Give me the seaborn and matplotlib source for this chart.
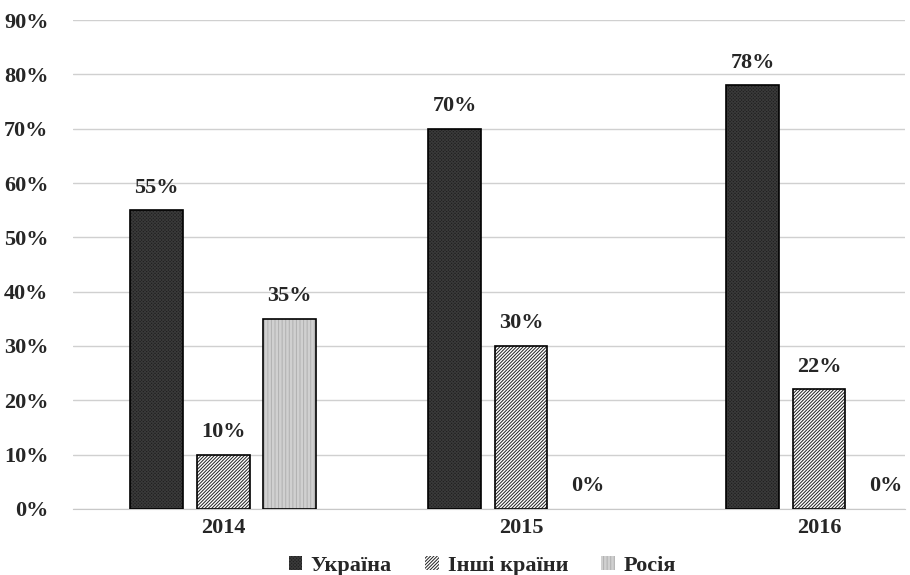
import numpy as np
import pandas as pd
import seaborn as sns
import matplotlib.pyplot as plt
from matplotlib.patches import Patch, Rectangle

# data
years = ['2014', '2015', '2016']
countries = ['Україна', 'Інші країни', 'Росія']
ukraine = [55, 70, 78]
others = [10, 30, 22]
russia = [35, 0, 0]

df = pd.DataFrame({
    'year': years * 3,
    'country': [countries[0]] * 3 + [countries[1]] * 3 + [countries[2]] * 3,
    'value': ukraine + others + russia,
})

sns.set_style('white')
plt.rcParams['font.family'] = ['Liberation Serif', 'DejaVu Serif']
plt.rcParams['font.weight'] = 'bold'
plt.rcParams['hatch.linewidth'] = 0.7

fig = plt.figure(figsize=(9.1, 5.75), dpi=100)
ax = fig.add_axes([0.080, 0.1148, 0.915, 0.8504])

# face colour, hatch, hatch colour
styles = {
    'Україна': ('#202020', 'xxxxxxxxxx', '#3a3a3a'),
    'Інші країни': ('#ffffff', '//////////', '#202020'),
    'Росія': ('#ffffff', '||||||||||||', '#b0b0b0'),
}
pal = {k: v[0] for k, v in styles.items()}

sns.barplot(data=df, x='year', y='value', hue='country', hue_order=countries,
            palette=pal, width=0.67, gap=0.21, saturation=1, ax=ax, legend=False)

FS = 16
for cont, c in zip(ax.containers, countries):
    fc, h, hc = styles[c]
    for bar in cont:
        bar.set_hatch(h)
        bar.set_edgecolor(hc)
        bar.set_linewidth(0)
        if bar.get_height() > 0:
            ax.add_patch(Rectangle(bar.get_xy(), bar.get_width(), bar.get_height(),
                                   fill=False, edgecolor='black', linewidth=1.2, zorder=3))
    ax.bar_label(cont, labels=[f'{int(v)}%' for v in cont.datavalues], padding=9,
                 fontsize=FS, fontweight='bold')

ax.set_ylim(0, 90)
ax.set_xlim(-0.505, 2.29)
ax.set_yticks(range(0, 91, 10))
ax.set_yticklabels([f'{t}%' for t in range(0, 91, 10)], fontsize=FS, fontweight='bold')
ax.tick_params(axis='x', labelsize=FS, pad=3)
ax.tick_params(axis='y', pad=14)
for lab in ax.get_xticklabels():
    lab.set_fontweight('bold')
ax.set_xlabel('')
ax.set_ylabel('')
ax.yaxis.grid(True, color='#d0d0d0', linewidth=1)
ax.set_axisbelow(True)
for s in ['top', 'right', 'left']:
    ax.spines[s].set_visible(False)
ax.spines['bottom'].set_color('#c8c8c8')

handles = []
for c in countries:
    fc, h, hc = styles[c]
    handles.append(Patch(facecolor=fc, hatch=h, edgecolor=hc, linewidth=0))
leg = fig.legend(handles, countries, loc='center', bbox_to_anchor=(0.53, 0.016), ncol=3,
                 frameon=False, fontsize=FS, handlelength=0.6, handleheight=0.6,
                 handletextpad=0.4, columnspacing=1.5, borderpad=0)
for t in leg.get_texts():
    t.set_fontweight('bold')

fig.savefig('out.png', dpi=100)
